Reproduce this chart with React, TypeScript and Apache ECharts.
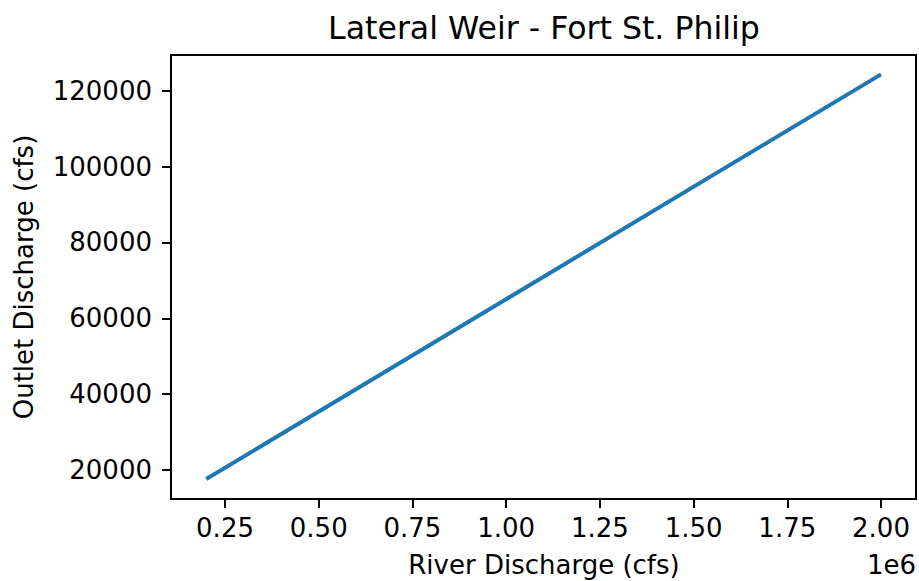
import React, { useEffect, useRef } from "react";
import * as echarts from "echarts";

const riverDischarge = [200000, 2000000];
const outletDischarge = [17600, 124300];
const xTickValues = [250000, 500000, 750000, 1000000, 1250000, 1500000, 1750000, 2000000];
const yTickValues = [20000, 40000, 60000, 80000, 100000, 120000];
const titleText = "Lateral Weir - Fort St. Philip";
const xLabel = "River Discharge (cfs)";
const yLabel = "Outlet Discharge (cfs)";
const offsetText = "1e6";

const FONT = "DejaVu Sans";

export default function App() {
  const ref = useRef<HTMLDivElement>(null);
  useEffect(() => {
    if (!ref.current) return;
    const chart = echarts.init(ref.current, undefined, { renderer: "svg" });
    const left = 171, top = 55, right = 916, bottom = 499;
    chart.setOption({
      animation: false,
      backgroundColor: "#ffffff",
      grid: {
        left,
        top,
        width: right - left,
        height: bottom - top,
        show: true,
        borderColor: "#000",
        borderWidth: 2,
        backgroundColor: "transparent",
      },
      xAxis: {
        type: "value",
        min: 105900,
        max: 2093400,
        axisLine: { show: true, onZero: false, lineStyle: { color: "#000", width: 2 } },
        axisTick: { show: true, length: 9, lineStyle: { color: "#000", width: 2 }, customValues: xTickValues },
        axisLabel: {
          customValues: xTickValues,
          formatter: (v: number) => (v / 1e6).toFixed(2),
          fontFamily: FONT,
          fontSize: 26,
          color: "#000",
          margin: 16,
        },
        splitLine: { show: false },
      },
      yAxis: {
        type: "value",
        min: 12350,
        max: 129400,
        axisLine: { show: true, onZero: false, lineStyle: { color: "#000", width: 2 } },
        axisTick: { show: true, length: 9, lineStyle: { color: "#000", width: 2 }, customValues: yTickValues },
        axisLabel: {
          customValues: yTickValues,
          formatter: (v: number) => String(v),
          fontFamily: FONT,
          fontSize: 26,
          color: "#000",
          margin: 19,
        },
        splitLine: { show: false },
      },
      graphic: [
        {
          type: "text",
          x: 544,
          y: 28,
          style: { text: titleText, font: `31.6px '${FONT}'`, fill: "#000", align: "center", verticalAlign: "middle" },
        },
        {
          type: "text",
          x: 544,
          y: 565,
          style: { text: xLabel, font: `26px '${FONT}'`, fill: "#000", align: "center", verticalAlign: "middle" },
        },
        {
          type: "text",
          x: 916,
          y: 565,
          style: { text: offsetText, font: `26px '${FONT}'`, fill: "#000", align: "right", verticalAlign: "middle" },
        },
        {
          type: "text",
          x: 24,
          y: 277,
          rotation: Math.PI / 2,
          style: { text: yLabel, font: `26px '${FONT}'`, fill: "#000", align: "center", verticalAlign: "middle" },
        },
      ],
      series: [
        {
          type: "line",
          data: riverDischarge.map((x, i) => [x, outletDischarge[i]]),
          showSymbol: false,
          lineStyle: { color: "#1f77b4", width: 4 },
          itemStyle: { color: "#1f77b4" },
        },
      ],
    });
    return () => chart.dispose();
  }, []);
  return <div ref={ref} style={{ position: "fixed", left: 0, top: 0, width: 919, height: 581 }} />;
}
